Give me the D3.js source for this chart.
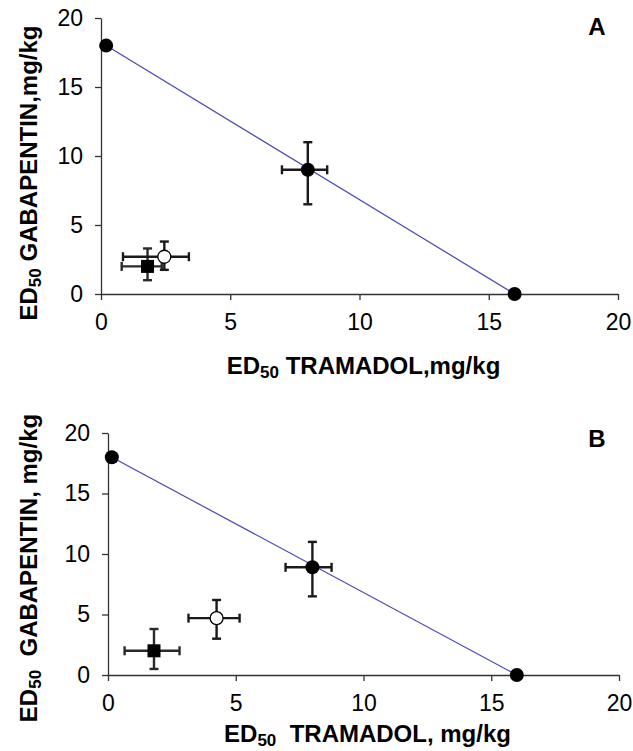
<!DOCTYPE html>
<html>
<head>
<meta charset="utf-8">
<script src="https://cdn.jsdelivr.net/npm/d3@7"></script>
<style>
  body { margin: 0; background: #fff; }
  svg { display: block; font-family: "Liberation Sans", Arial, sans-serif; }
  .axis path, .axis line { stroke: #333; stroke-width: 1.3; }
  .axis text { font-size: 23px; fill: #000; }
  .lbl { font-size: 24px; font-weight: bold; fill: #000; }
</style>
</head>
<body>
<div id="chart"></div>
<script>
// data

var panelNames = ["A", "B"];
var tickValues = [0, 5, 10, 15, 20];

// additive isobole ends (tramadol alone, gabapentin alone)
var isoboleA = [{ x: 0.2, y: 18 }, { x: 16, y: 0 }];
var isoboleB = [{ x: 0.15, y: 18 }, { x: 16, y: 0 }];

// theoretical additive point with error bars
var theoreticalA = [{ x: 8, y: 9, xlo: 7.0, xhi: 8.75, ylo: 6.5, yhi: 11 }];
var theoreticalB = [{ x: 8, y: 8.9, xlo: 6.95, xhi: 8.75, ylo: 6.5, yhi: 11 }];

// experimental points: filled square and open circle
var squareA = [{ x: 1.8, y: 2.0, xlo: 0.8, xhi: 2.35, ylo: 1.0, yhi: 3.3 }];
var openA = [{ x: 2.45, y: 2.7, xlo: 0.85, xhi: 3.4, ylo: 1.75, yhi: 3.8 }];
var squareB = [{ x: 1.8, y: 2.0, xlo: 0.65, xhi: 2.8, ylo: 0.5, yhi: 3.8 }];
var openB = [{ x: 4.25, y: 4.7, xlo: 3.15, xhi: 5.15, ylo: 3.0, yhi: 6.2 }];

var xLabels = ["TRAMADOL,mg/kg", "TRAMADOL, mg/kg"];
var yLabels = ["GABAPENTIN,mg/kg", "GABAPENTIN, mg/kg"];

// layout

var W = 633, H = 751;
var frames = [
    { left: 101, right: 618, top: 18, bottom: 294, xLabY: 374, yLabX: 37, yLabC: 173, tagY: 35, gap: " " },
    { left: 108, right: 619, top: 433, bottom: 675, xLabY: 742, yLabX: 37, yLabC: 568, tagY: 447, gap: "  " }
];
var panelData = [
    { iso: isoboleA, theo: theoreticalA, sq: squareA, op: openA },
    { iso: isoboleB, theo: theoreticalB, sq: squareB, op: openB }
];

var svg = d3.select("#chart")
    .append("svg")
    .attr("width", W)
    .attr("height", H);

panelNames.forEach(function(name, i) {
    var f = frames[i], d = panelData[i];

    var x = d3.scaleLinear().domain([0, 20]).range([f.left, f.right]);
    var y = d3.scaleLinear().domain([0, 20]).range([f.bottom, f.top]);

    var g = svg.append("g");

    g.append("g")
        .classed("axis", true)
        .attr("transform", "translate(0," + f.bottom + ")")
        .call(d3.axisBottom(x).tickValues(tickValues).tickSize(6).tickSizeOuter(0).tickPadding(14));

    g.append("g")
        .classed("axis", true)
        .attr("transform", "translate(" + f.left + ",0)")
        .call(d3.axisLeft(y).tickValues(tickValues).tickSize(6).tickSizeOuter(0).tickPadding(12));

    // isobole line
    g.append("path")
        .datum(d.iso)
        .attr("fill", "none")
        .attr("stroke", "#4848b8")
        .attr("stroke-width", 1.2)
        .attr("d", d3.line().x(function(p) { return x(p.x); }).y(function(p) { return y(p.y); }));

    function errorBars(data, col) {
        var eb = g.append("g").attr("stroke", col).attr("stroke-width", 2.4).attr("fill", "none");
        data.forEach(function(p) {
            var cap = 4.5;
            eb.append("line").attr("x1", x(p.xlo)).attr("x2", x(p.xhi)).attr("y1", y(p.y)).attr("y2", y(p.y));
            eb.append("line").attr("x1", x(p.xlo)).attr("x2", x(p.xlo)).attr("y1", y(p.y) - cap).attr("y2", y(p.y) + cap);
            eb.append("line").attr("x1", x(p.xhi)).attr("x2", x(p.xhi)).attr("y1", y(p.y) - cap).attr("y2", y(p.y) + cap);
            eb.append("line").attr("x1", x(p.x)).attr("x2", x(p.x)).attr("y1", y(p.ylo)).attr("y2", y(p.yhi));
            eb.append("line").attr("x1", x(p.x) - cap).attr("x2", x(p.x) + cap).attr("y1", y(p.ylo)).attr("y2", y(p.ylo));
            eb.append("line").attr("x1", x(p.x) - cap).attr("x2", x(p.x) + cap).attr("y1", y(p.yhi)).attr("y2", y(p.yhi));
        });
    }

    errorBars(d.sq, "#2a2a2a");
    errorBars(d.theo, "#1a1a1a");

    g.selectAll(".sq")
        .data(d.sq)
        .enter()
        .append("rect")
        .attr("x", function(p) { return x(p.x) - 6.5; })
        .attr("y", function(p) { return y(p.y) - 6.5; })
        .attr("width", 13)
        .attr("height", 13)
        .attr("fill", "#000");

    errorBars(d.op, "#1a1a1a");

    g.selectAll(".op")
        .data(d.op)
        .enter()
        .append("circle")
        .attr("cx", function(p) { return x(p.x); })
        .attr("cy", function(p) { return y(p.y); })
        .attr("r", 6.5)
        .attr("fill", "#fff")
        .attr("stroke", "#000")
        .attr("stroke-width", 1.3);

    g.selectAll(".dot")
        .data(d.iso.concat(d.theo))
        .enter()
        .append("circle")
        .attr("cx", function(p) { return x(p.x); })
        .attr("cy", function(p) { return y(p.y); })
        .attr("r", 7)
        .attr("fill", "#000");

    // axis titles
    var xt = g.append("text")
        .classed("lbl", true)
        .attr("x", (f.left + f.right) / 2 + 4)
        .attr("y", f.xLabY)
        .attr("text-anchor", "middle")
        .style("white-space", "pre");
    xt.append("tspan").text("ED");
    xt.append("tspan").attr("dy", 4).style("font-size", "17px").text("50");
    xt.append("tspan").attr("dy", -4).text(f.gap + xLabels[i]);

    var yt = g.append("text")
        .classed("lbl", true)
        .attr("transform", "translate(" + f.yLabX + "," + f.yLabC + ") rotate(-90)")
        .attr("text-anchor", "middle")
        .style("white-space", "pre");
    yt.append("tspan").text("ED");
    yt.append("tspan").attr("dy", 4).style("font-size", "17px").text("50");
    yt.append("tspan").attr("dy", -4).text(f.gap + yLabels[i]);

    g.append("text")
        .classed("lbl", true)
        .attr("x", 597)
        .attr("y", f.tagY)
        .attr("text-anchor", "middle")
        .text(name);
});
</script>
</body>
</html>
